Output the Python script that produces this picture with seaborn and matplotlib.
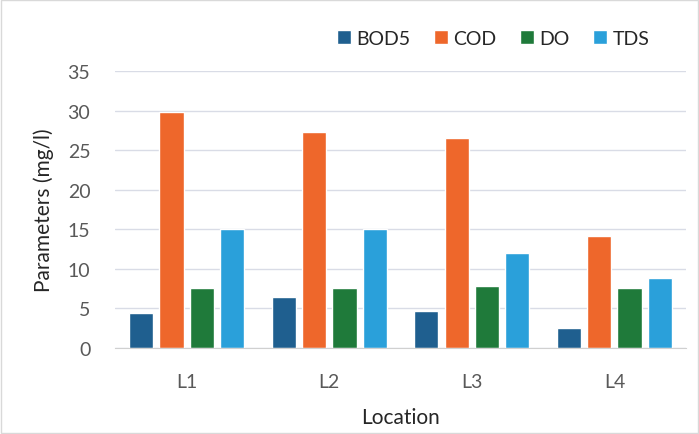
import pandas as pd
import matplotlib.pyplot as plt
import seaborn as sns

# Data
locations = ["L1", "L2", "L3", "L4"]
bod5 = [4.4, 6.4, 4.7, 2.5]
cod = [29.8, 27.3, 26.5, 14.1]
do = [7.6, 7.6, 7.8, 7.6]
tds = [15.0, 15.0, 12.0, 8.9]
params = ["BOD5", "COD", "DO", "TDS"]
colors = ["#1f5f8f", "#ee672b", "#1f7a3a", "#2aa0da"]

df = pd.DataFrame({
    "Location": locations * 4,
    "Parameter": [p for p in params for _ in locations],
    "Value": bod5 + cod + do + tds,
})

sns.set_style("white")
plt.rcParams["font.family"] = ["Lato", "DejaVu Sans"]

fig = plt.figure(figsize=(6.99, 4.35), dpi=100)
ax = fig.add_axes([0.165, 0.198, 0.816, 0.636])

sns.barplot(
    data=df,
    x="Location",
    y="Value",
    hue="Parameter",
    palette=colors,
    saturation=1,
    width=0.85,
    gap=0.2,
    ax=ax,
)

ax.set_ylim(0, 35)
ax.set_yticks(range(0, 36, 5))
ax.yaxis.grid(True, color="#d9dce6", linewidth=1)
ax.set_axisbelow(True)
for side in ["top", "right", "left"]:
    ax.spines[side].set_visible(False)
ax.spines["bottom"].set_color("#d0d0d0")

ax.tick_params(axis="both", length=0, labelsize=14, labelcolor="#595959")
ax.tick_params(axis="x", pad=18)
ax.tick_params(axis="y", pad=18)
ax.set_xlabel("Location", fontsize=15, color="#262626", labelpad=12)
ax.set_ylabel("Parameters (mg/l)", fontsize=15, color="#262626", labelpad=10)

ax.legend(
    loc="lower right",
    bbox_to_anchor=(0.95, 1.06),
    ncol=4,
    frameon=False,
    fontsize=14,
    handlelength=0.7,
    handleheight=0.7,
    handletextpad=0.3,
    columnspacing=1.2,
    borderaxespad=0,
)

# light border round the whole figure
fig.patches.append(plt.Rectangle((0.002, 0.002), 0.996, 0.996, transform=fig.transFigure,
                                 fill=False, edgecolor="#d9d9d9", linewidth=1))

fig.savefig("out.png", dpi=100)
